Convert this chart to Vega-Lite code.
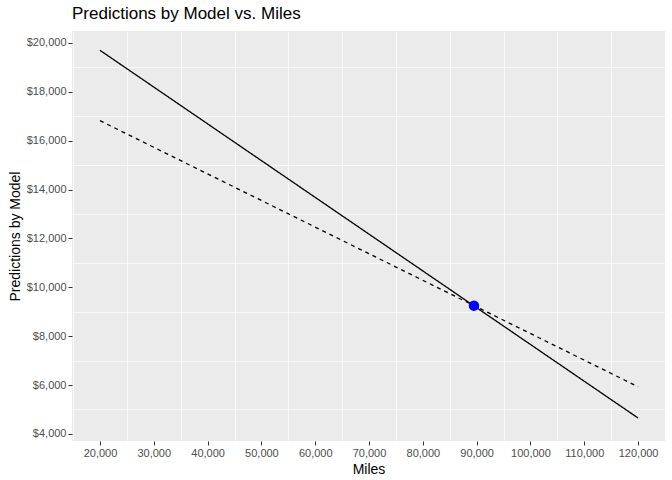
{
  "$schema": "https://vega.github.io/schema/vega-lite/v6.json",
  "width": 593,
  "height": 410,
  "padding": {"left": 8, "top": 5, "right": 5, "bottom": 5},
  "background": "white",
  "title": {"text": "Predictions by Model vs. Miles", "anchor": "start", "frame": "group", "fontSize": 17, "fontWeight": "normal", "font": "Liberation Sans", "color": "black", "offset": 8},
  "config": {
    "view": {"fill": "#EBEBEB", "stroke": null},
    "axis": {"labelFont": "Liberation Sans", "titleFont": "Liberation Sans", "labelColor": "#4D4D4D", "labelFontSize": 11, "titleFontSize": 14, "titleFontWeight": "normal", "titleColor": "black", "gridColor": "white", "gridWidth": 1.6, "gridOpacity": 1, "domain": false, "tickColor": "#333333", "tickSize": 4, "labelPadding": 2}
  },
  "datasets": {
    "lines": [
      {"miles": 20000, "pred": 19700, "model": "solid"},
      {"miles": 120000, "pred": 4650, "model": "solid"},
      {"miles": 20000, "pred": 16820, "model": "dashed"},
      {"miles": 120000, "pred": 5930, "model": "dashed"}
    ],
    "point": [{"miles": 89500, "pred": 9250}]
  },
  "resolve": {"axis": {"x": "independent", "y": "independent"}},
  "layer": [
    {
      "data": {"name": "point"},
      "mark": {"type": "point", "opacity": 0},
      "encoding": {
        "x": {"field": "miles", "type": "quantitative", "scale": {"domain": [14800, 125000], "nice": false, "zero": false},
          "axis": {"orient": "top", "values": [15000, 25000, 35000, 45000, 55000, 65000, 75000, 85000, 95000, 105000, 115000, 125000], "labels": false, "ticks": false, "title": null, "gridWidth": 0.7}},
        "y": {"field": "pred", "type": "quantitative", "scale": {"domain": [3710, 20490], "nice": false, "zero": false},
          "axis": {"orient": "right", "values": [5000, 7000, 9000, 11000, 13000, 15000, 17000, 19000], "labels": false, "ticks": false, "title": null, "gridWidth": 0.7}}
      }
    },
    {
      "data": {"name": "lines"},
      "mark": {"type": "line", "color": "black", "strokeWidth": 1.3},
      "encoding": {
        "x": {"field": "miles", "type": "quantitative",
          "axis": {"orient": "bottom", "title": "Miles", "values": [20000, 30000, 40000, 50000, 60000, 70000, 80000, 90000, 100000, 110000, 120000], "format": ",d"}},
        "y": {"field": "pred", "type": "quantitative",
          "axis": {"orient": "left", "title": "Predictions by Model", "values": [4000, 6000, 8000, 10000, 12000, 14000, 16000, 18000, 20000], "format": "$,d"}},
        "detail": {"field": "model"},
        "strokeDash": {"field": "model", "type": "nominal", "scale": {"domain": ["solid", "dashed"], "range": [[1, 0], [4, 4]]}, "legend": null}
      }
    },
    {
      "data": {"name": "point"},
      "mark": {"type": "circle", "color": "blue", "opacity": 1, "size": 110},
      "encoding": {
        "x": {"field": "miles", "type": "quantitative", "axis": null},
        "y": {"field": "pred", "type": "quantitative", "axis": null}
      }
    }
  ]
}
